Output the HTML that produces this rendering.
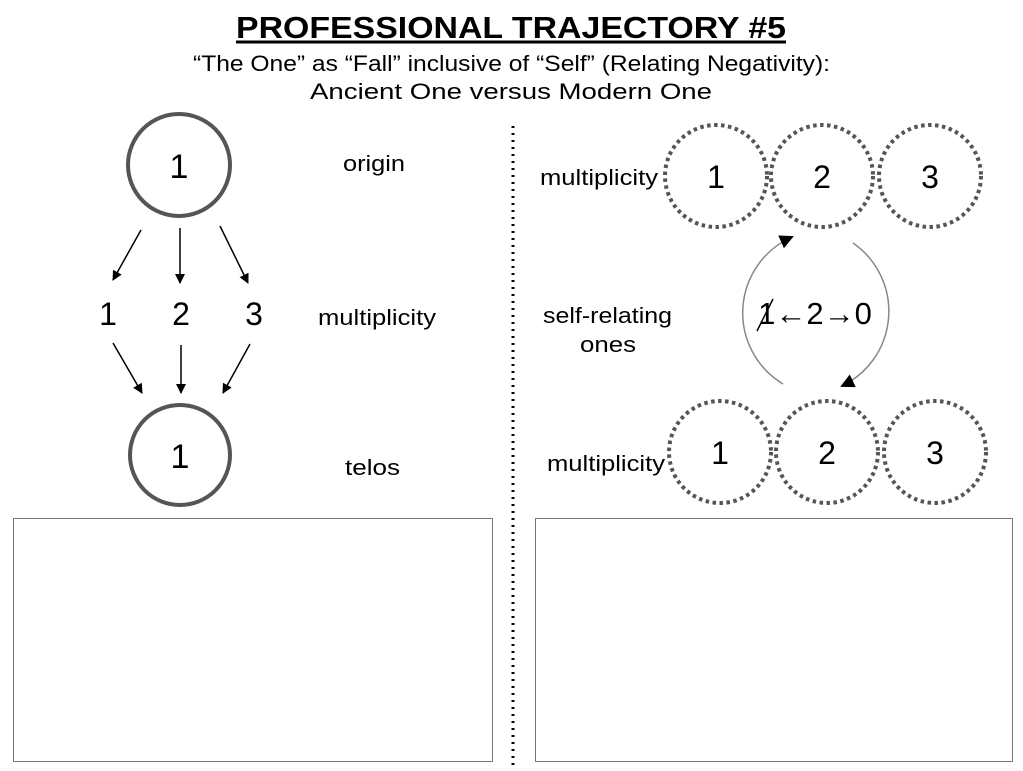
<!DOCTYPE html>
<html><head><meta charset="utf-8"><style>
body{margin:0;width:1023px;height:766px;background:#fff;overflow:hidden;font-family:"Liberation Sans",sans-serif}
</style></head><body>
<svg width="1023" height="766" xmlns="http://www.w3.org/2000/svg" font-family="Liberation Sans, sans-serif">
<defs>
<marker id="a" markerWidth="10" markerHeight="10" refX="9" refY="5" orient="auto" markerUnits="userSpaceOnUse"><path d="M0,0 L10,5 L0,10 z" fill="#000"/></marker>
<marker id="b" markerWidth="14" markerHeight="14" refX="12" refY="7" orient="auto" markerUnits="userSpaceOnUse"><path d="M0,0 L14,7 L0,14 z" fill="#000"/></marker>
</defs>
<text x="236" y="38" font-size="31" font-weight="bold" textLength="550" lengthAdjust="spacingAndGlyphs">PROFESSIONAL TRAJECTORY #5</text>
<line x1="236" y1="42" x2="786" y2="42" stroke="#000" stroke-width="3"/>
<text x="193" y="71" font-size="22" textLength="637" lengthAdjust="spacingAndGlyphs">“The One” as “Fall” inclusive of “Self” (Relating Negativity):</text>
<text x="310" y="99" font-size="22" textLength="402" lengthAdjust="spacingAndGlyphs">Ancient One versus Modern One</text>
<line x1="513" y1="126" x2="513" y2="766" stroke="#000" stroke-width="3" stroke-dasharray="2,5"/>
<!-- left -->
<circle cx="179" cy="165" r="51" fill="none" stroke="#555" stroke-width="4"/>
<text x="179" y="178" font-size="34" text-anchor="middle">1</text>
<circle cx="180" cy="455" r="50" fill="none" stroke="#555" stroke-width="4"/>
<text x="180" y="468" font-size="34" text-anchor="middle">1</text>
<g stroke="#000" stroke-width="1.5" marker-end="url(#a)">
<line x1="141" y1="230" x2="113" y2="280"/>
<line x1="180" y1="228" x2="180" y2="283"/>
<line x1="220" y1="226" x2="248" y2="283"/>
<line x1="113" y1="343" x2="142" y2="393"/>
<line x1="181" y1="345" x2="181" y2="393"/>
<line x1="250" y1="344" x2="223" y2="393"/>
</g>
<text x="108" y="325" font-size="32" text-anchor="middle">1</text>
<text x="181" y="325" font-size="32" text-anchor="middle">2</text>
<text x="254" y="325" font-size="32" text-anchor="middle">3</text>
<g font-size="22" lengthAdjust="spacingAndGlyphs">
<text x="343" y="171" textLength="62" lengthAdjust="spacingAndGlyphs">origin</text>
<text x="318" y="325" textLength="118" lengthAdjust="spacingAndGlyphs">multiplicity</text>
<text x="345" y="475" textLength="55" lengthAdjust="spacingAndGlyphs">telos</text>
<text x="540" y="185" textLength="118" lengthAdjust="spacingAndGlyphs">multiplicity</text>
<text x="547" y="471" textLength="118" lengthAdjust="spacingAndGlyphs">multiplicity</text>
<text x="543" y="323" textLength="129" lengthAdjust="spacingAndGlyphs">self-relating</text>
<text x="580" y="352" textLength="56" lengthAdjust="spacingAndGlyphs">ones</text>
</g>
<rect x="13.5" y="518.5" width="479" height="243" fill="none" stroke="#777" stroke-width="1"/>
<!-- right -->
<g fill="none" stroke="#555" stroke-width="4" stroke-dasharray="3.5,3.5">
<circle cx="716" cy="176" r="51"/><circle cx="822" cy="176" r="51"/><circle cx="930" cy="176" r="51"/>
<circle cx="720" cy="452" r="51"/><circle cx="827" cy="452" r="51"/><circle cx="935" cy="452" r="51"/>
</g>
<g font-size="32" text-anchor="middle">
<text x="716" y="188">1</text><text x="822" y="188">2</text><text x="930" y="188">3</text>
<text x="720" y="464">1</text><text x="827" y="464">2</text><text x="935" y="464">3</text>
</g>
<path d="M783,384 A83,83 0 0 1 792,237" fill="none" stroke="#888" stroke-width="1.5" marker-end="url(#b)"/>
<path d="M853,243 A83,83 0 0 1 842,386" fill="none" stroke="#888" stroke-width="1.5" marker-end="url(#b)"/>
<text x="815" y="324" font-size="31" text-anchor="middle">1←2→0</text>
<line x1="757" y1="331" x2="773" y2="299" stroke="#000" stroke-width="1.5"/>
<rect x="535.5" y="518.5" width="477" height="243" fill="none" stroke="#777" stroke-width="1"/>
</svg>
</body></html>
